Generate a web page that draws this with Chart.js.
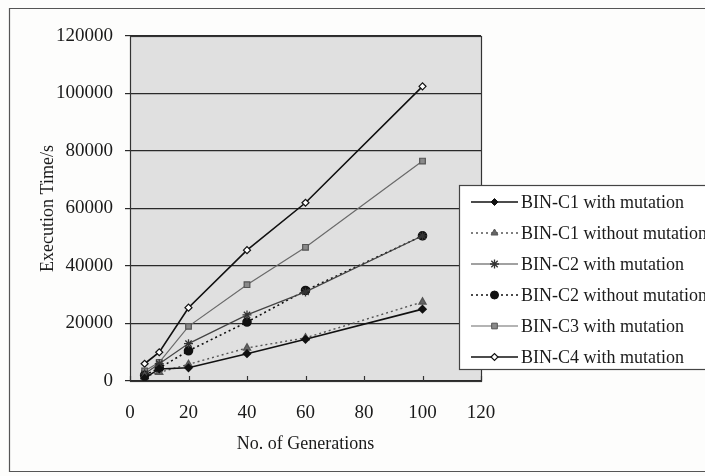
<!DOCTYPE html>
<html>
<head>
<meta charset="utf-8">
<script src="https://cdn.jsdelivr.net/npm/chart.js@4/dist/chart.umd.min.js"></script>
<style>
  html, body { margin: 0; padding: 0; background: #fdfdfc; }
  #wrap { position: relative; width: 705px; height: 476px; }
</style>
</head>
<body>
<div id="wrap"><canvas id="chart"></canvas></div>
<script>
// generations on the x axis
const generations = [5, 10, 20, 40, 60, 100];

// execution time in seconds for each run
const c1With = [1000, 4200, 4600, 9500, 14500, 25000];
const c1Without = [1500, 3000, 5800, 11500, 15000, 27500];
const c2With = [2500, 6000, 13000, 23000, 31000, 50500];
const c2Without = [2000, 4500, 10500, 20500, 31500, 50500];
const c3With = [3500, 6500, 19000, 33500, 46500, 76500];
const c4With = [6000, 10000, 25500, 45500, 62000, 102500];

const seriesNames = [
  'BIN-C1 with mutation',
  'BIN-C1 without mutation',
  'BIN-C2 with mutation',
  'BIN-C2 without mutation',
  'BIN-C3 with mutation',
  'BIN-C4 with mutation'
];

const xTicks = [0, 20, 40, 60, 80, 100, 120];

const serif = '"Liberation Serif", "DejaVu Serif", serif';
const toPoints = (ys) => ys.map((y, i) => ({ x: generations[i], y }));

const datasets = [
  { label: seriesNames[0], data: toPoints(c1With), borderColor: '#111', borderWidth: 1.6,
    pointStyle: 'rectRot', pointRadius: 3.5, pointBackgroundColor: '#111', pointBorderColor: '#111' },
  { label: seriesNames[1], data: toPoints(c1Without), borderColor: '#555', borderWidth: 1.4, borderDash: [2, 3],
    pointStyle: 'triangle', pointRadius: 4, pointBackgroundColor: '#666', pointBorderColor: '#555' },
  { label: seriesNames[2], data: toPoints(c2With), borderColor: '#444', borderWidth: 1.2,
    pointStyle: 'star', pointRadius: 4.5, pointBackgroundColor: '#444', pointBorderColor: '#333', pointBorderWidth: 1.3 },
  { label: seriesNames[3], data: toPoints(c2Without), borderColor: '#111', borderWidth: 1.6, borderDash: [2, 3],
    pointStyle: 'circle', pointRadius: 4, pointBackgroundColor: '#111', pointBorderColor: '#111' },
  { label: seriesNames[4], data: toPoints(c3With), borderColor: '#6a6a6a', borderWidth: 1.2,
    pointStyle: 'rect', pointRadius: 4, pointBackgroundColor: '#8a8a8a', pointBorderColor: '#555' },
  { label: seriesNames[5], data: toPoints(c4With), borderColor: '#111', borderWidth: 1.6,
    pointStyle: 'rectRot', pointRadius: 3.5, pointBackgroundColor: '#fff', pointBorderColor: '#111', pointBorderWidth: 1.2 }
];
datasets.forEach(d => { d.fill = false; d.tension = 0; });

// draws a marker shape, used for the legend samples
const drawMarker = (ctx, ds, x, y) => {
  const opts = {
    pointStyle: ds.pointStyle, radius: ds.pointRadius, rotation: 0,
    borderWidth: ds.pointBorderWidth || 1
  };
  ctx.save();
  ctx.setLineDash([]);
  ctx.fillStyle = ds.pointBackgroundColor;
  ctx.strokeStyle = ds.pointBorderColor;
  ctx.lineWidth = opts.borderWidth;
  Chart.helpers.drawPoint(ctx, opts, x, y);
  ctx.restore();
};

const paperPlugin = {
  id: 'paper',
  beforeDraw(chart) {
    const { ctx, chartArea: a } = chart;
    ctx.save();
    // outer frame
    ctx.strokeStyle = '#555';
    ctx.lineWidth = 1.2;
    ctx.beginPath();
    ctx.moveTo(710, 8.5);
    ctx.lineTo(9.5, 8.5);
    ctx.lineTo(9.5, 471.5);
    ctx.lineTo(710, 471.5);
    ctx.stroke();
    // plot background
    ctx.fillStyle = '#e0e0e0';
    ctx.fillRect(a.left, a.top, a.right - a.left, a.bottom - a.top);
    ctx.restore();
  },
  afterDatasetsDraw(chart) {
    const { ctx, chartArea: a } = chart;
    const xs = chart.scales.x;
    ctx.save();
    ctx.strokeStyle = '#333';
    ctx.lineWidth = 1.2;
    ctx.setLineDash([]);
    ctx.strokeRect(a.left + 0.5, a.top + 0.5, a.right - a.left, a.bottom - a.top);
    // x ticks point into the plot
    xTicks.forEach(v => {
      const px = Math.round(xs.getPixelForValue(v)) + 0.5;
      ctx.beginPath();
      ctx.moveTo(px, a.bottom);
      ctx.lineTo(px, a.bottom - 5);
      ctx.stroke();
    });

    // legend box
    const bx = 459.5, by = 185.5, bw = 260, bh = 184;
    ctx.fillStyle = '#fff';
    ctx.fillRect(bx, by, bw, bh);
    ctx.strokeStyle = '#444';
    ctx.lineWidth = 1.2;
    ctx.strokeRect(bx, by, bw, bh);
    ctx.font = '18px ' + serif;
    ctx.fillStyle = '#1a1a1a';
    ctx.textBaseline = 'middle';
    chart.data.datasets.forEach((ds, i) => {
      const y = 202 + i * 31;
      ctx.strokeStyle = ds.borderColor;
      ctx.lineWidth = ds.borderWidth;
      ctx.setLineDash(ds.borderDash || []);
      ctx.beginPath();
      ctx.moveTo(471, y);
      ctx.lineTo(518, y);
      ctx.stroke();
      drawMarker(ctx, ds, 494.5, y);
      ctx.fillText(ds.label, 521, y + 1);
    });
    ctx.restore();
  }
};

new Chart(document.getElementById('chart'), {
  type: 'line',
  data: { datasets },
  options: {
    responsive: true,
    maintainAspectRatio: false,
    animation: false,
    layout: { padding: { top: 36, right: 224, left: 0, bottom: 0 } },
    plugins: { legend: { display: false }, tooltip: { enabled: false } },
    scales: {
      x: {
        type: 'linear',
        min: 0,
        max: 120,
        afterFit: (s) => { s.height = 95; },
        afterBuildTicks: (s) => { s.ticks = xTicks.map(v => ({ value: v })); },
        grid: { display: false },
        border: { display: false },
        ticks: { padding: 13, color: '#1a1a1a', font: { family: serif, size: 19 } },
        title: {
          display: true,
          text: 'No. of Generations',
          color: '#1a1a1a',
          font: { family: serif, size: 18 },
          padding: { top: 0, bottom: 21 }
        }
      },
      y: {
        min: 0,
        max: 120000,
        afterFit: (s) => { s.width = 130; },
        grid: { color: '#2a2a2a', lineWidth: 1.2, tickLength: 5, drawTicks: true },
        border: { display: false },
        ticks: {
          stepSize: 20000, padding: 12, color: '#1a1a1a', font: { family: serif, size: 19 },
          callback: (v) => String(v)
        },
        title: {
          display: true,
          text: 'Execution Time/s',
          color: '#1a1a1a',
          font: { family: serif, size: 18 },
          padding: { top: 37, bottom: 0 }
        }
      }
    }
  },
  plugins: [paperPlugin]
});
</script>
</body>
</html>
